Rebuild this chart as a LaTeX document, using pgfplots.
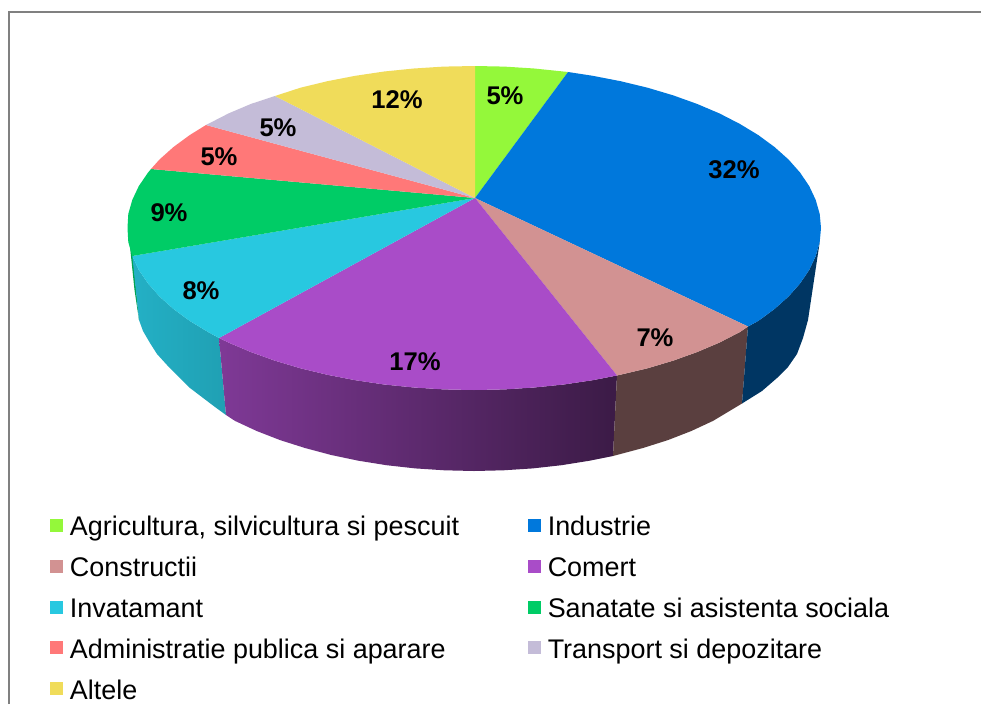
\documentclass[border=0pt]{standalone}
\usepackage{fontspec}
\setmainfont{Liberation Sans}
\usepackage{pgfplots}
\pgfplotsset{compat=1.18}
\definecolor{cAgri}{HTML}{94F83A}
\definecolor{cInd}{HTML}{0078DC}
\definecolor{cCon}{HTML}{D29292}
\definecolor{cCom}{HTML}{A94CC8}
\definecolor{cInv}{HTML}{28C8E0}
\definecolor{cSan}{HTML}{00CC66}
\definecolor{cAdm}{HTML}{FF7878}
\definecolor{cTra}{HTML}{C4BCD8}
\definecolor{cAlt}{HTML}{F0DC5A}
\begin{document}
\begin{tikzpicture}
\begin{axis}[
    scale only axis,
    width=735.75pt,height=528pt,
    xmin=0,xmax=981,ymin=0,ymax=704,
    y dir=reverse,
    hide axis,
    no markers,
    legend columns=2,
    legend cell align=left,
    legend image code/.code={\fill[#1] (0pt,-2.75pt) rectangle (9.75pt,7pt);},
    legend style={
        at={(axis cs:50,507.5)},anchor=north west,
        draw=none,fill=none,
        font=\fontsize{20.2pt}{24pt}\selectfont,
        inner sep=0pt,
        row sep=0pt,
        nodes={inner ysep=0pt,inner xsep=0pt,text height=21pt,text depth=9.65pt},
        /tikz/every odd column/.append style={column sep=5pt},
        /tikz/column 2/.style={column sep=51.75pt},
    },
]
% page and frame
\addplot[forget plot,draw=none,fill=white] coordinates {(0,0) (981,0) (981,704) (0,704)} -- cycle;
\addplot[forget plot,color=gray,line width=1.5pt] coordinates {(8.5,704) (8.5,11.5) (981,11.5)};
% side walls
\addplot[forget plot,draw=none,fill=black!20!cSan] coordinates {(129,237) (133,257) (139,320) (134.5,290)} -- cycle;
\addplot[forget plot,draw=none,left color=cInv!88!black,right color=cInv!80!black] coordinates {(132.3,256) (138.8,269.9) (148,283.4) (159.5,296.5) (173.5,309) (189.7,320.9) (208.2,332.1) (219,338) (226,415) (215,407) (190,388) (167,365) (157,354) (150,343) (143,331) (139,320)} -- cycle;
\addplot[forget plot,draw=none,left color=cCom!75!black,right color=cCom!35!black] coordinates {(219,338) (228.6,342.6) (251,352.1) (275,360.7) (300.5,368.3) (327.4,374.8) (355.3,380.2) (384.2,384.5) (413.8,387.5) (443.7,389.4) (474,390) (504.3,389.4) (534.2,387.5) (563.8,384.5) (592.7,380.2) (617,375.5) (613,456) (589.6,460.7) (561.5,465.2) (532.7,468.4) (503.5,470.3) (474,471) (444.5,470.3) (415.3,468.4) (386.5,465.2) (358.4,460.7) (331.2,455) (305,448) (280.1,440.1) (256.7,431) (235,420.9) (226,415)} -- cycle;
\addplot[forget plot,draw=none,fill=cCon!43!black] coordinates {(617,375.5) (647.5,368.3) (673,360.7) (697,352.1) (719.4,342.6) (739.8,332.1) (748,326.5) (742,403.5) (713,420.9) (691.3,431) (667.9,440.1) (643,448) (613,456)} -- cycle;
\addplot[forget plot,draw=none,fill=cInd!45!black] coordinates {(748,326.5) (758.3,320.9) (774.5,309) (788.5,296.5) (800.1,283.4) (809.2,269.9) (815.7,256.1) (819.7,242.1) (808,320) (803,338) (797,354) (788,367) (777,378) (762,391) (742,403.5)} -- cycle;
% top face
\addplot[draw=none,fill=cAgri] coordinates {(475,198) (475,66) (504.3,66.6) (534.2,68.5) (568,72)} -- cycle;
\addlegendentry{Agricultura, silvicultura si pescuit}
\addplot[draw=none,fill=cInd] coordinates {(475,198) (568,72) (592.7,75.8) (620.6,81.2) (647.5,87.7) (673,95.3) (697,103.9) (719.4,113.4) (739.8,123.9) (758.3,135.1) (774.5,147) (788.5,159.5) (800.1,172.6) (809.2,186.1) (815.7,199.9) (819.7,213.9) (821,228) (819.7,242.1) (815.7,256.1) (809.2,269.9) (800.1,283.4) (788.5,296.5) (774.5,309) (758.3,320.9) (748,326.5)} -- cycle;
\addlegendentry{Industrie}
\addplot[draw=none,fill=cCon] coordinates {(475,198) (748,326.5) (739.8,332.1) (719.4,342.6) (697,352.1) (673,360.7) (647.5,368.3) (617,375.5)} -- cycle;
\addlegendentry{Constructii}
\addplot[draw=none,fill=cCom] coordinates {(475,198) (617,375.5) (592.7,380.2) (563.8,384.5) (534.2,387.5) (504.3,389.4) (474,390) (443.7,389.4) (413.8,387.5) (384.2,384.5) (355.3,380.2) (327.4,374.8) (300.5,368.3) (275,360.7) (251,352.1) (228.6,342.6) (219,338)} -- cycle;
\addlegendentry{Comert}
\addplot[draw=none,fill=cInv] coordinates {(475,198) (219,338) (208.2,332.1) (189.7,320.9) (173.5,309) (159.5,296.5) (148,283.4) (138.8,269.9) (132.3,256)} -- cycle;
\addlegendentry{Invatamant}
\addplot[draw=none,fill=cSan] coordinates {(475,198) (132.3,256) (128.3,242.1) (127.5,228) (128.3,213.9) (132.3,199.9) (138.8,186.1) (148,172.6) (151,169)} -- cycle;
\addlegendentry{Sanatate si asistenta sociala}
\addplot[draw=none,fill=cAdm] coordinates {(475,198) (151,169) (159.5,159.5) (173.5,147) (189.7,135.1) (206,125)} -- cycle;
\addlegendentry{Administratie publica si aparare}
\addplot[draw=none,fill=cTra] coordinates {(475,198) (206,125) (228.6,113.4) (251,103.9) (275,96)} -- cycle;
\addlegendentry{Transport si depozitare}
\addplot[draw=none,fill=cAlt] coordinates {(475,198) (275,96) (300.5,87.7) (327.4,81.2) (355.3,75.8) (384.2,71.5) (413.8,68.5) (443.7,66.6) (475,66)} -- cycle;
\addlegendentry{Altele}
% percentage labels
\begin{scope}[every node/.style={font=\fontsize{19.2pt}{22pt}\selectfont\bfseries,text=black,inner sep=0pt}]
\node at (axis cs:505,96) {5\%};
\node at (axis cs:734,170) {32\%};
\node at (axis cs:655,338) {7\%};
\node at (axis cs:415,362) {17\%};
\node at (axis cs:201,291) {8\%};
\node at (axis cs:169,213) {9\%};
\node at (axis cs:219,157) {5\%};
\node at (axis cs:278,128) {5\%};
\node at (axis cs:397,100) {12\%};
\end{scope}
\end{axis}
\end{tikzpicture}
\end{document}
